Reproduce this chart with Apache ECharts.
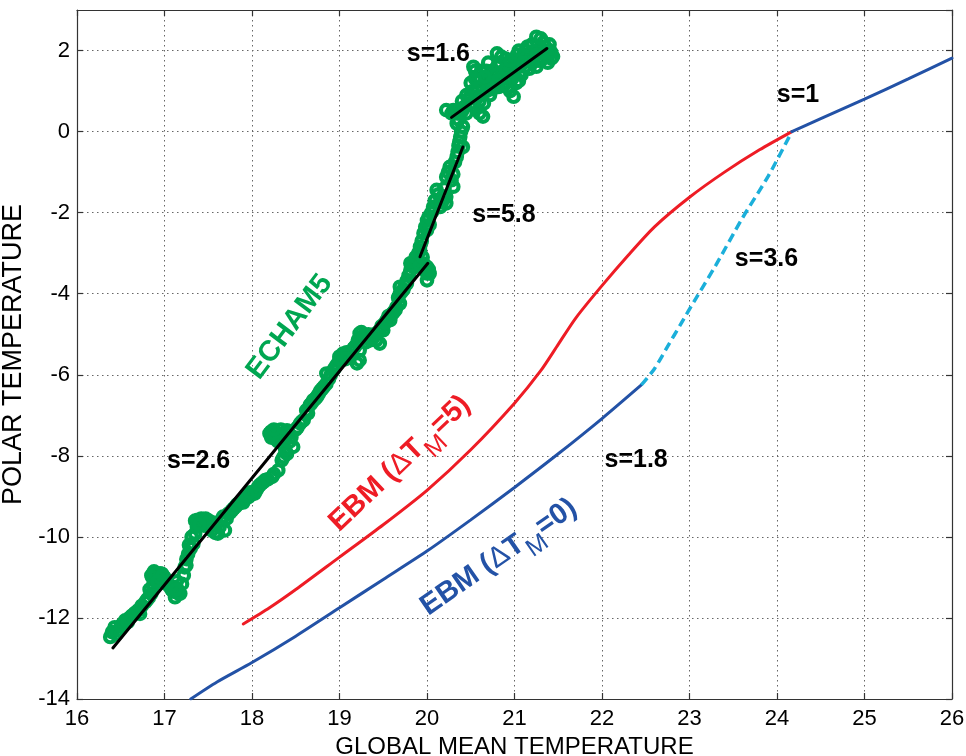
<!DOCTYPE html>
<html>
<head>
<meta charset="utf-8">
<script src="https://cdn.jsdelivr.net/npm/echarts@6/dist/echarts.min.js"></script>
<style>html,body{margin:0;padding:0;background:#fff}#c{width:966px;height:756px}</style>
</head>
<body>
<div id="c"></div>
<script>
// ---- DATA ----
const xTicks = [16,17,18,19,20,21,22,23,24,25,26];
const yTicks = [-14,-12,-10,-8,-6,-4,-2,0,2];

// ECHAM5 simulations (open green circles)
const echamX = [16.38,16.40,16.43,16.48,16.52,16.55,16.60,16.63,16.70,16.74,16.78,16.82,16.85,16.85,16.88,16.90,16.93,16.95,16.97,17.00,
17.05,17.10,17.12,17.15,17.18,17.12,17.20,17.22,17.23,17.25,17.27,17.30,17.33,17.35,17.35,17.39,17.42,17.45,17.48,17.50,
17.52,17.54,17.58,17.61,17.65,17.69,17.73,17.77,17.81,17.85,17.88,17.92,17.96,18.00,18.03,18.07,18.11,18.15,18.20,18.23,
18.26,18.28,18.30,18.32,18.34,18.35,18.37,18.36,18.40,18.40,18.45,18.47,18.52,18.55,18.59,18.62,18.66,18.70,18.74,18.78,
18.82,18.85,18.85,18.90,18.93,18.97,19.00,19.01,19.04,19.06,19.10,19.14,19.18,19.20,19.23,19.23,19.23,19.27,19.30,19.35,
19.42,19.46,19.46,19.50,19.54,19.58,19.62,19.65,19.69,19.69,19.69,19.73,19.77,19.77,19.81,19.81,19.85,19.88,19.92,19.92,
19.96,19.96,20.00,20.00,20.00,20.00,20.00,20.03,20.03,20.07,20.07,20.11,20.15,20.18,20.22,20.22,20.22,20.26,20.30,20.30,
20.34,20.36,20.38,20.41,20.41,20.34,20.30,20.22,20.40,20.45,20.50,20.50,20.53,20.55,20.60,20.61,20.62,20.64,20.65,20.70,
20.72,20.75,20.80,20.80,20.82,20.85,20.90,20.92,20.95,20.98,20.99,21.00,21.02,21.05,21.08,21.10,21.12,21.15,21.20,21.22,
21.25,21.25,21.28,21.30,21.33,21.36,21.40,21.42,21.44,
16.45,16.50,16.58,16.66,16.72,16.80,16.83,16.87,16.92,16.98,17.02,17.08,17.14,17.25,17.28,17.31,17.37,17.40,17.56,17.63,
17.67,17.71,17.75,17.79,17.83,17.90,17.94,17.98,18.05,18.09,18.13,18.18,18.22,18.25,18.33,18.38,18.42,18.43,18.50,18.57,
18.64,18.68,18.72,18.76,18.80,18.88,18.95,19.03,19.08,19.12,19.16,19.21,19.25,19.33,19.38,19.40,19.44,19.48,19.52,19.56,
19.60,19.64,19.67,19.71,19.75,19.79,19.83,19.87,19.90,19.94,19.98,20.02,20.05,20.09,20.13,20.17,20.20,20.24,20.28,20.32,
20.35,20.37,20.39,20.36,20.42,20.47,20.52,20.56,20.58,20.63,20.68,20.68,20.74,20.78,20.84,20.88,20.88,20.93,20.97,21.03,
21.06,21.13,21.17,21.18,21.23,21.27,21.31,21.35,21.38,
20.45,20.50,20.55,20.60,20.65,20.70,20.75,20.80,20.85,20.90,20.95,21.00,21.05,21.10,21.15,21.20,21.25,21.30,21.35,21.40,
21.42,20.35,20.40,20.55,20.66,20.92,21.05,20.38,20.28,
16.86,16.90,16.94,16.98,16.92,17.38,17.44,17.50,17.47,17.40,18.22,18.27,18.30,18.35,18.30,18.25,19.05,19.00,19.08,19.25,
19.28,19.92,19.95,20.02,17.16,17.13];
const echamY = [-12.47,-12.35,-12.23,-12.30,-12.15,-12.06,-12.00,-11.94,-11.81,-11.70,-11.61,-11.50,-11.40,-10.95,-10.85,-11.05,-11.07,-10.90,-10.91,-11.00,
-11.20,-11.35,-11.49,-11.30,-11.40,-11.24,-11.16,-10.95,-10.75,-10.55,-10.42,-10.28,-10.17,-9.92,-9.60,-9.67,-9.55,-9.72,-9.62,-9.59,
-9.70,-9.84,-9.90,-9.92,-9.59,-9.84,-9.43,-9.35,-9.26,-9.18,-9.10,-9.05,-9.02,-8.95,-8.93,-8.77,-8.68,-8.60,-7.45,-8.52,
-7.40,-7.60,-8.36,-7.50,-8.11,-7.70,-7.62,-8.03,-7.95,-7.37,-7.54,-7.78,-7.30,-7.20,-7.12,-6.88,-6.75,-6.63,-6.55,-6.40,
-6.30,-6.22,-5.97,-6.00,-5.89,-5.75,-5.55,-5.64,-5.48,-5.62,-5.50,-5.42,-5.30,-5.72,-5.64,-5.40,-4.98,-5.05,-5.20,-5.15,
-5.15,-5.23,-4.90,-4.90,-4.65,-4.65,-4.45,-4.33,-4.24,-4.00,-3.83,-3.90,-3.75,-3.67,-3.42,-3.25,-3.35,-3.17,-2.93,-2.84,
-3.26,-2.51,-3.67,-3.50,-3.34,-2.43,-2.19,-3.50,-2.30,-1.94,-1.86,-1.44,-1.86,-1.60,-1.77,-1.61,-1.12,-0.87,-1.36,-1.05,
-0.62,-0.35,-0.13,-0.38,0.12,0.20,0.53,0.53,0.50,0.45,0.70,0.90,1.60,0.60,0.45,1.27,1.50,0.37,1.20,1.35,
0.90,1.50,1.60,1.93,1.10,1.40,1.80,1.30,1.00,1.50,0.86,1.75,1.20,1.60,1.40,1.90,1.60,1.75,2.15,1.85,
1.60,2.34,2.00,1.75,2.20,1.85,2.00,1.80,1.85,
-12.40,-12.20,-12.10,-11.88,-11.90,-11.55,-11.30,-11.20,-10.95,-11.10,-11.15,-11.30,-11.10,-10.70,-10.20,-10.00,-9.75,-9.62,-9.65,-9.75,
-9.50,-9.55,-9.40,-9.30,-9.20,-9.15,-8.98,-8.90,-8.85,-8.72,-8.65,-8.58,-7.55,-8.45,-7.35,-7.85,-7.45,-7.65,-7.35,-7.15,
-6.95,-6.70,-6.60,-6.48,-6.35,-6.10,-5.82,-5.58,-5.45,-5.55,-5.35,-5.15,-5.10,-5.00,-5.10,-5.00,-4.95,-4.80,-4.72,-4.55,
-4.50,-4.40,-4.10,-3.95,-3.80,-3.55,-3.30,-3.10,-3.00,-2.70,-2.35,-2.10,-2.00,-1.70,-1.55,-1.75,-1.40,-1.00,-1.20,-0.75,
-0.50,-0.25,0.00,0.30,0.60,0.80,1.00,0.80,1.30,1.10,1.50,1.00,1.20,1.40,1.70,1.50,1.15,1.65,1.30,1.90,
1.45,2.00,1.55,1.90,2.00,1.75,1.95,2.10,1.70,
0.90,1.20,1.30,0.75,0.70,1.70,1.05,1.25,1.85,1.55,1.75,1.40,2.00,1.70,2.10,1.70,1.90,2.30,1.95,2.15,
1.95,0.45,0.75,1.50,1.35,1.10,1.25,0.55,0.45,
-11.00,-10.90,-11.00,-10.95,-11.10,-9.58,-9.60,-9.65,-9.55,-9.70,-7.40,-7.50,-7.45,-7.55,-7.65,-7.35,-5.52,-5.60,-5.60,-4.95,
-5.02,-3.30,-3.10,-3.40,-11.40,-11.30];

// Linear fits (black)
const fit1X = [16.41, 20.01], fit1Y = [-12.74, -3.25];
const fit2X = [19.92, 20.41], fit2Y = [-3.09, -0.38];
const fit3X = [20.28, 21.37], fit3Y = [0.35, 2.05];

// EBM (dT_M = 5), red
const ebm5X = [17.90,18.20,18.50,19.00,19.50,20.00,20.50,21.00,21.30,21.50,21.70,22.00,22.30,22.60,23.00,23.40,23.80,24.17];
const ebm5Y = [-12.15,-11.75,-11.30,-10.50,-9.70,-8.85,-7.85,-6.70,-5.90,-5.25,-4.60,-3.80,-3.05,-2.35,-1.62,-1.00,-0.45,0.00];

// EBM (dT_M = 0), blue, lower branch
const ebm0X = [17.30,17.60,18.00,18.50,19.00,19.50,20.00,20.50,21.00,21.50,22.00,22.45];
const ebm0Y = [-14.00,-13.58,-13.10,-12.45,-11.75,-11.05,-10.35,-9.58,-8.78,-7.95,-7.08,-6.25];
// transition (dashed cyan)
const jumpX = [22.45,22.60,22.75,22.90,23.05,23.30,23.60,23.90,24.17];
const jumpY = [-6.25,-5.85,-5.30,-4.75,-4.20,-3.30,-2.15,-1.10,0.00];
// blue, upper branch
const ebmUpX = [24.17,24.50,25.00,25.50,26.00];
const ebmUpY = [0.00,0.32,0.80,1.30,1.81];

// Annotations
const slopeText = ['s=1.6','s=5.8','s=3.6','s=1','s=2.6','s=1.8'];
const slopeX = [20.13,20.88,23.88,24.24,17.39,22.39];
const slopeY = [1.91,-2.07,-3.14,0.90,-8.12,-8.10];

const nameText = ['ECHAM5','EBM (ΔT|M|=5)','EBM (ΔT|M|=0)'];
const nameX = [18.43,19.69,20.82];
const nameY = [-4.82,-8.19,-10.50];

// ---- STYLE ----
const FONT = 'Liberation Sans, Arial, Helvetica, sans-serif';
const GREEN = '#00A651', RED = '#EE1C25', BLUE = '#2352A6', CYAN = '#1BAFDA';
const zip = (a,b) => a.map((v,i)=>[v,b[i]]);

function lineSeries(xs, ys, color, width, type, z, cap) {
  return {type:'line', data: zip(xs,ys), showSymbol:false, symbol:'none', smooth:0.25,
    lineStyle:{color, width, type: type || 'solid', cap: cap || 'round', opacity:1}, z: z || 3,
    silent:true, animation:false, emphasis:{disabled:true}};
}

const nameColors = [GREEN, RED, BLUE];
const nameRot = [53, 43.6, 34.8];
function richName(t, k) {
  if (k === 0) return '{g|' + t + '}';
  const p = t.split('|');
  const pre = p[0].split('Δ')[0];
  const post = p[0].split('Δ')[1];
  return '{n' + k + '|' + pre + '}{d' + k + '|Δ}{n' + k + '|' + post + '}{s' + k + '|' + p[1] + '}{n' + k + '|' + p[2] + '}';
}
const rich = {g:{fontSize:29, fontWeight:'bold', color:GREEN, fontFamily:FONT}};
[1,2].forEach(k => {
  const c = nameColors[k];
  rich['n'+k] = {fontSize:29, fontWeight:'bold', color:c, fontFamily:FONT};
  rich['d'+k] = {fontSize:29, fontWeight:'normal', color:c, fontFamily:FONT};
  rich['s'+k] = {fontSize:25, fontWeight:'normal', color:c, fontFamily:FONT, padding:[26,0,0,0]};
});

const chart = echarts.init(document.getElementById('c'), null, {renderer:'canvas'});
const axisCommon = {
  axisLine:{show:true, onZero:false, lineStyle:{color:'#333', width:1.2}},
  axisTick:{show:true, inside:true, length:6, lineStyle:{color:'#333', width:1.2}},
};
const gridLine = {show:true, lineStyle:{color:'#666', width:1, type:[1.5,3.5]}};
chart.setOption({
  animation:false,
  backgroundColor:'#fff',
  grid:{left:77, right:14, top:10, bottom:57, show:false, containLabel:false, outerBoundsMode:'none'},
  xAxis:[
    Object.assign({type:'value', min:16, max:26, interval:1, position:'bottom',
      name:'GLOBAL MEAN TEMPERATURE', nameLocation:'middle', nameGap:31,
      nameTextStyle:{fontSize:24, color:'#000', fontFamily:FONT},
      axisLabel:{fontSize:22, color:'#000', margin:9, fontFamily:FONT,
        formatter: v => xTicks.includes(v) ? String(v) : ''},
      splitLine:gridLine}, axisCommon),
    Object.assign({type:'value', min:16, max:26, interval:1, position:'top',
      axisLabel:{show:false}, splitLine:{show:false}}, axisCommon)
  ],
  yAxis:[
    Object.assign({type:'value', min:-14, max:3, interval:2, position:'left',
      name:'POLAR TEMPERATURE', nameLocation:'middle', nameGap:48,
      nameTextStyle:{fontSize:27, color:'#000', fontFamily:FONT},
      axisLabel:{fontSize:22, color:'#000', margin:7, fontFamily:FONT, showMaxLabel:false,
        formatter: v => yTicks.includes(v) ? String(v) : ''},
      splitLine:gridLine}, axisCommon),
    Object.assign({type:'value', min:-14, max:3, interval:2, position:'right',
      axisLabel:{show:false}, splitLine:{show:false}}, axisCommon)
  ],
  series:[
    {type:'scatter', data: zip(echamX, echamY), symbol:'circle', symbolSize:10.5,
      itemStyle:{color:'rgba(0,0,0,0)', borderColor:GREEN, borderWidth:4.2, opacity:1}, z:2, silent:true,
      emphasis:{disabled:true}},
    lineSeries(fit1X, fit1Y, '#000', 3, 'solid', 4),
    lineSeries(fit2X, fit2Y, '#000', 3, 'solid', 4),
    lineSeries(fit3X, fit3Y, '#000', 3, 'solid', 4),
    lineSeries(ebm5X, ebm5Y, RED, 3, 'solid', 3),
    lineSeries(ebm0X, ebm0Y, BLUE, 3, 'solid', 3),
    lineSeries(jumpX, jumpY, CYAN, 3.5, [9,5], 3, 'butt'),
    lineSeries(ebmUpX, ebmUpY, BLUE, 3, 'solid', 4),
    {type:'scatter', data: slopeText.map((t,i)=>({value:[slopeX[i], slopeY[i]], name:t})),
      symbolSize:0, silent:true, z:6, itemStyle:{opacity:1}, emphasis:{disabled:true},
      label:{show:true, position:'inside', formatter: p => p.name, opacity:1,
        fontSize:25, fontWeight:'bold', color:'#000', fontFamily:FONT}},
    {type:'scatter', data: nameText.map((t,i)=>({value:[nameX[i], nameY[i]], name:t,
        label:{rotate: nameRot[i], formatter: richName(t,i)}})),
      symbolSize:0, silent:true, z:6, itemStyle:{opacity:1}, emphasis:{disabled:true},
      label:{show:true, position:'inside', align:'center', verticalAlign:'middle', opacity:1, rich}}
  ]
});
</script>
</body>
</html>
